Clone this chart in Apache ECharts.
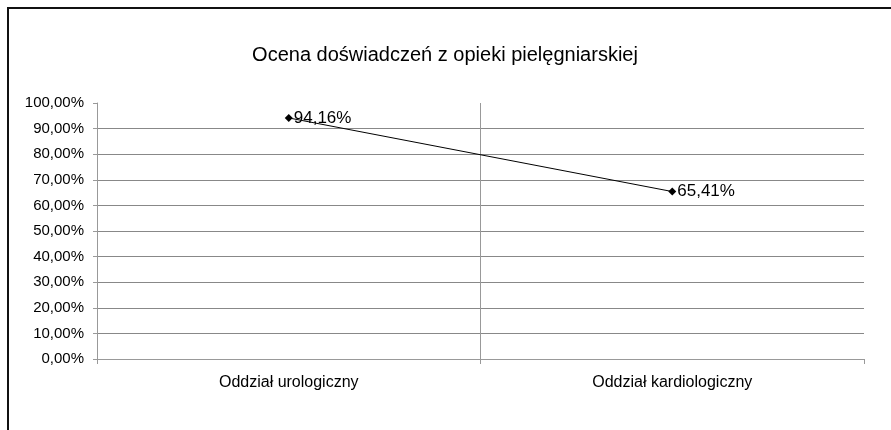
<!DOCTYPE html>
<html><head><meta charset="utf-8">
<script src="https://cdn.jsdelivr.net/npm/echarts@6/dist/echarts.min.js"></script>
<style>html,body{margin:0;padding:0;background:#fff}#c{width:891px;height:430px}</style>
</head><body><div id="c"></div>
<script>
const titleText = 'Ocena doświadczeń z opieki pielęgniarskiej';
const categories = ['Oddział urologiczny', 'Oddział kardiologiczny'];
const values = [94.16, 65.41];
const yMin = 0, yMax = 100, yStep = 10;

const fmt = v => v.toFixed(2).replace('.', ',') + '%';
const FONT = '"Liberation Sans", Arial, sans-serif';

const chart = echarts.init(document.getElementById('c'), null, {renderer: 'canvas'});
chart.setOption({
  backgroundColor: '#fff',
  animation: false,
  title: {
    text: titleText, left: 440, top: 40, textAlign: 'center',
    textStyle: {fontFamily: FONT, fontSize: 20, fontWeight: 'normal', color: '#000'}
  },
  graphic: [{
    type: 'rect', silent: true, z: 100,
    shape: {x: 8, y: 8, width: 1000, height: 1000},
    style: {fill: 'none', stroke: '#111', lineWidth: 2}
  }],
  grid: {left: 97, right: 27, top: 103, bottom: 71, containLabel: false},
  xAxis: {
    type: 'category', data: categories, boundaryGap: true,
    axisLine: {show: true, lineStyle: {color: '#999', width: 1}},
    axisTick: {show: true, length: 5, lineStyle: {color: '#999'}},
    splitLine: {show: true, showMinLine: false, showMaxLine: false, lineStyle: {color: '#999', width: 1}},
    axisLabel: {fontFamily: FONT, fontSize: 16, color: '#000', margin: 16}
  },
  yAxis: {
    type: 'value', min: yMin, max: yMax, interval: yStep,
    axisLine: {show: true, lineStyle: {color: '#999', width: 1}},
    axisTick: {show: true, length: 4, lineStyle: {color: '#999'}},
    splitLine: {show: true, showMinLine: false, showMaxLine: false, lineStyle: {color: '#888', width: 1}},
    axisLabel: {fontFamily: FONT, fontSize: 15, color: '#000', margin: 13, formatter: fmt}
  },
  series: [{
    type: 'line', data: values,
    symbol: 'diamond', symbolSize: 8,
    lineStyle: {color: '#000', width: 1},
    itemStyle: {color: '#000'},
    label: {
      show: true, position: 'right', distance: 1,
      fontFamily: FONT, fontSize: 17, color: '#000',
      formatter: p => fmt(p.value)
    }
  }]
});
</script>
</body></html>
